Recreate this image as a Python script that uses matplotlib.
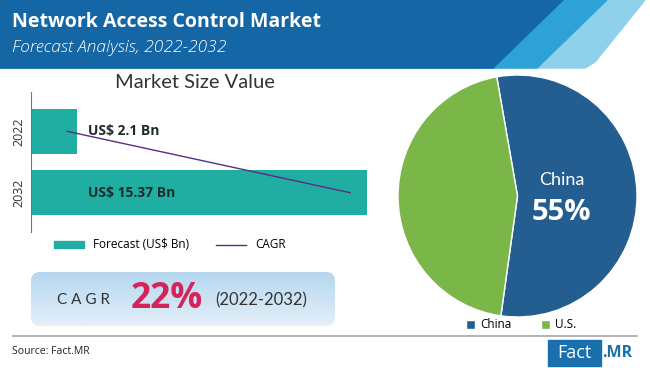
import numpy as np
import matplotlib.pyplot as plt
from matplotlib.colors import LinearSegmentedColormap
from matplotlib.patches import Polygon, FancyBboxPatch, Rectangle
from matplotlib.lines import Line2D

# --- data ---
years = ['2022', '2032']
forecast = [2.1, 15.37]
bar_labels = ['US$ 2.1 Bn', 'US$ 15.37 Bn']
cagr_x = [1.65, 14.6]          # CAGR trend line drawn across the bars
cagr_value = '22%'
regions = ['China', 'U.S.']
shares = [55, 45]

W, H = 650, 368
fig = plt.figure(figsize=(W / 100, H / 100), dpi=100)
fig.patch.set_facecolor('white')


def px_axes(x0, y0, x1, y1):
    # axes from pixel box (top-left origin)
    return fig.add_axes([x0 / W, 1 - y1 / H, (x1 - x0) / W, (y1 - y0) / H])


# --- header band ---
bg = fig.add_axes([0, 0, 1, 1])
bg.axis('off')
bg.add_patch(Polygon([(0, 0), (645, 0), (595, 62), (585, 68), (0, 68)], color='#8fd0ea'))
bg.add_patch(Polygon([(0, 0), (607, 0), (537, 68), (0, 68)], color='#2ea2d6'))
bg.add_patch(Polygon([(0, 0), (563, 0), (493, 68), (0, 68)], color='#1466a4'))
bg.text(12, 22, 'Network Access Control Market', color='white', fontsize=14,
        fontweight='bold', family='Open Sans', va='center')
bg.text(12, 48, 'Forecast Analysis, 2022-2032', color='white', fontsize=12.5,
        style='italic', family='Open Sans', fontweight='light', va='center')

# --- CAGR box ---
grad = np.linspace(0, 1, 50).reshape(-1, 1)
box = FancyBboxPatch((31, 272), 304, 54, boxstyle='round,pad=0,rounding_size=9',
                     facecolor='none', edgecolor='none')
bg.add_patch(box)
cmap = LinearSegmentedColormap.from_list('g', ['#b6d7ef', '#e3eff9'])
im = bg.imshow(grad, extent=(31, 335, 326, 272), cmap=cmap, aspect='auto', zorder=1)
im.set_clip_path(box)
bg.set_xlim(0, W)
bg.set_ylim(H, 0)
bg.text(57, 300, 'C A G R', fontsize=11, color='#333333', family='Lato', va='center')
bg.text(131, 299, cagr_value, fontsize=25.5, color='#d4245c', fontweight='bold',
        family='Open Sans', va='center')
bg.text(215, 300, '(2022-2032)', fontsize=12, color='#333333', family='Lato', va='center')

# divider and source
bg.plot([13, 637], [336, 336], color='#a6a6a6', lw=1.2)
bg.text(12, 352, 'Source: Fact.MR', fontsize=7.5, color='#222222', family='Open Sans', va='center')

# Fact.MR logo
bg.add_patch(Rectangle((548, 340), 53, 26, color='#1a6fad'))
bg.text(574.5, 353, 'Fact', fontsize=13, color='white', ha='center', va='center', family='Open Sans')
bg.text(602, 353, '.MR', fontsize=11.5, color='#1a6fad', fontweight='bold', ha='left', va='center',
        family='Open Sans')

# --- bar chart ---
ax = px_axes(31, 92, 385, 232)
y = np.arange(len(years))
ax.barh(y, forecast, height=0.74, color='#20aea3')
ax.plot(cagr_x, y, color='#5a2d82', lw=1)
for yi, lab in zip(y, bar_labels):
    ax.text(2.6, yi, lab, fontsize=10, fontweight='bold', color='#1d2d2b',
            family='Open Sans', va='center')
ax.set_ylim(1.64, -0.64)
ax.set_xlim(0, 16.2)
ax.set_yticks(y)
ax.set_yticklabels(years, rotation=90, va='center', fontsize=9, family='Open Sans', color='#333333')
ax.tick_params(axis='y', length=0, pad=4)
ax.set_xticks([])
for s in ['top', 'right', 'bottom']:
    ax.spines[s].set_visible(False)
ax.spines['left'].set_color('#777777')
ax.patch.set_alpha(0)
ax.set_title('Market Size Value', fontsize=14.5, color='#333333', family='Lato', pad=3,
             x=0.463)

handles = [Rectangle((0, 0), 1, 1, color='#20aea3'), Line2D([0], [0], color='#5a2d82', lw=1)]
fig.legend(handles, ['Forecast (US$ Bn)', 'CAGR'], loc='center', bbox_to_anchor=(170 / W, 1 - 245 / H),
           ncol=2, frameon=False, handlelength=2.5, handleheight=0.5, columnspacing=2.3,
           handletextpad=0.8, prop={'family': 'Open Sans', 'size': 8.5})

# --- pie chart ---
axp = px_axes(398, 75, 637, 317)
wedges, _ = axp.pie(shares, colors=['#245e91', '#7ab648'], startangle=100, counterclock=False,
                    wedgeprops={'edgecolor': 'white', 'linewidth': 1})
axp.set_aspect('auto')
axp.set_xlim(-1, 1)
axp.set_ylim(-1, 1)
axp.text(0.37, 0.13, regions[0], color='white', fontsize=13, ha='center', va='center', family='Lato')
axp.text(0.37, -0.14, f'{shares[0]}%', color='white', fontsize=21, fontweight='bold',
         ha='center', va='center', family='Open Sans')
fig.legend(wedges, regions, loc='center', bbox_to_anchor=(521 / W, 1 - 325 / H), ncol=2, frameon=False,
           handlelength=0.8, handleheight=0.8, columnspacing=2.5, handletextpad=0.4,
           prop={'family': 'Open Sans', 'size': 8.5})

fig.savefig('out.png', dpi=100)
